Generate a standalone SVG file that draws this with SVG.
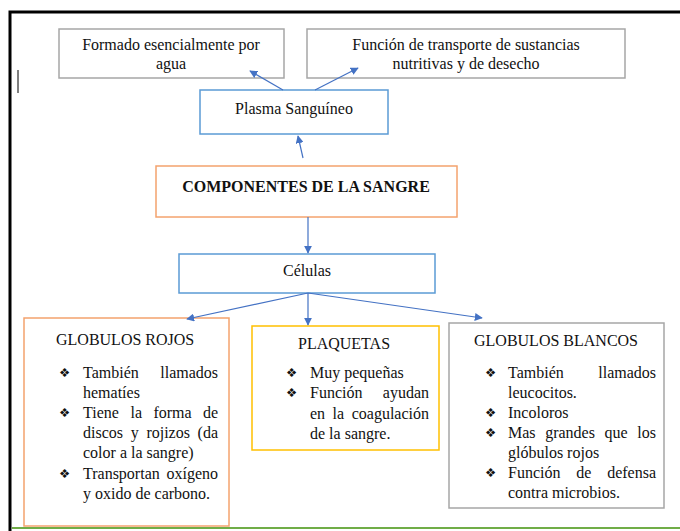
<svg xmlns="http://www.w3.org/2000/svg" width="680" height="531" viewBox="0 0 680 531">
<defs>
<marker id="ah" viewBox="0 0 10 10" refX="9" refY="5" markerWidth="8" markerHeight="8" markerUnits="userSpaceOnUse" orient="auto">
<path d="M0,0 L10,5 L0,10 z" fill="#4472C4"/>
</marker>
<style>
text{font-family:"Liberation Serif","Times New Roman",serif;font-size:16px;fill:#111}
.c{text-anchor:middle}
.e{text-anchor:end}
.b{font-weight:bold}
.bul{font-family:"DejaVu Sans",sans-serif;font-size:12.5px}
.box{fill:#fff;stroke-width:1.5}
.blue{stroke:#5B9BD5}
.gray{stroke:#A6A6A6}
.org{stroke:#F4A36E}
.yel{stroke:#FFC000}
.con{stroke:#4472C4;stroke-width:1.2;fill:none;marker-end:url(#ah)}
</style>
</defs>
<rect width="680" height="531" fill="#fff"/>
<path d="M10,531 V12 H680" fill="none" stroke="#000" stroke-width="3"/>
<line x1="12" y1="528" x2="680" y2="528" stroke="#70AD47" stroke-width="2"/>
<line x1="18" y1="70" x2="18" y2="93" stroke="#000" stroke-width="1"/>

<g id="agua">
<rect class="box gray" x="59" y="29" width="225" height="49"/>
<text class="c" x="171" y="50">Formado esencialmente por</text>
<text class="c" x="171" y="69">agua</text>
</g>
<g id="funcion">
<rect class="box gray" x="307" y="29" width="318" height="49"/>
<text class="c" x="466" y="50">Función de transporte de sustancias</text>
<text class="c" x="466" y="69">nutritivas y de desecho</text>
</g>
<g id="plasma">
<rect class="box blue" x="200" y="90" width="188" height="44"/>
<text class="c" x="294" y="114">Plasma Sanguíneo</text>
</g>
<g id="componentes">
<rect class="box org" x="156" y="166" width="301" height="51"/>
<text class="c b" x="306" y="192">COMPONENTES DE LA SANGRE</text>
</g>
<g id="celulas">
<rect class="box blue" x="179" y="254" width="256" height="39"/>
<text class="c" x="307" y="276">Células</text>
</g>
<g id="rojos">
<rect class="box org" x="24" y="318" width="205" height="208"/>
<text x="56" y="345">GLOBULOS ROJOS</text>
<text class="bul" x="59" y="377">❖</text>
<text x="83" y="378">También</text><text class="e" x="218" y="378">llamados</text>
<text x="83" y="398">hematíes</text>
<text class="bul" x="59" y="417">❖</text>
<text y="418"><tspan x="83">Tiene</tspan><tspan x="130.6">la</tspan><tspan x="153.4">forma</tspan><tspan x="218" text-anchor="end">de</tspan></text>
<text y="438"><tspan x="83">discos</tspan><tspan x="130.7">y</tspan><tspan x="146.4">rojizos</tspan><tspan x="218" text-anchor="end">(da</tspan></text>
<text x="83" y="458">color a la sangre)</text>
<text class="bul" x="59" y="478">❖</text>
<text y="479"><tspan x="83">Transportan</tspan><tspan x="218" text-anchor="end">oxígeno</tspan></text>
<text x="83" y="499">y oxido de carbono.</text>
</g>
<g id="plaquetas">
<rect class="box yel" x="252" y="326" width="187" height="124"/>
<text x="298" y="349">PLAQUETAS</text>
<text class="bul" x="286" y="377">❖</text>
<text x="310" y="378">Muy pequeñas</text>
<text class="bul" x="286" y="397">❖</text>
<text y="398"><tspan x="310">Función</tspan><tspan x="429" text-anchor="end">ayudan</tspan></text>
<text y="419"><tspan x="310">en</tspan><tspan x="332.6">la</tspan><tspan x="429" text-anchor="end">coagulación</tspan></text>
<text x="310" y="439">de la sangre.</text>
</g>
<g id="blancos">
<rect class="box gray" x="449" y="323" width="215" height="185"/>
<text x="474" y="346">GLOBULOS BLANCOS</text>
<text class="bul" x="485" y="377">❖</text>
<text y="378"><tspan x="508">También</tspan><tspan x="656" text-anchor="end">llamados</tspan></text>
<text x="508" y="398">leucocitos.</text>
<text class="bul" x="485" y="417">❖</text>
<text x="508" y="418">Incoloros</text>
<text class="bul" x="485" y="437">❖</text>
<text y="438"><tspan x="508">Mas</tspan><tspan x="545.2">grandes</tspan><tspan x="604.6">que</tspan><tspan x="656" text-anchor="end">los</tspan></text>
<text x="508" y="458">glóbulos rojos</text>
<text class="bul" x="485" y="477">❖</text>
<text y="478"><tspan x="508">Función</tspan><tspan x="576.2">de</tspan><tspan x="656" text-anchor="end">defensa</tspan></text>
<text x="508" y="498">contra microbios.</text>
</g>

<g id="connectors">
<line class="con" x1="283" y1="90" x2="250" y2="71"/>
<line class="con" x1="315" y1="90" x2="358" y2="68"/>
<line class="con" x1="303" y1="158" x2="298" y2="136"/>
<line class="con" x1="308" y1="217" x2="308" y2="253"/>
<line class="con" x1="308" y1="293" x2="187" y2="319"/>
<line class="con" x1="308" y1="293" x2="308" y2="325"/>
<line class="con" x1="308" y1="293" x2="482" y2="318"/>
</g>
</svg>
